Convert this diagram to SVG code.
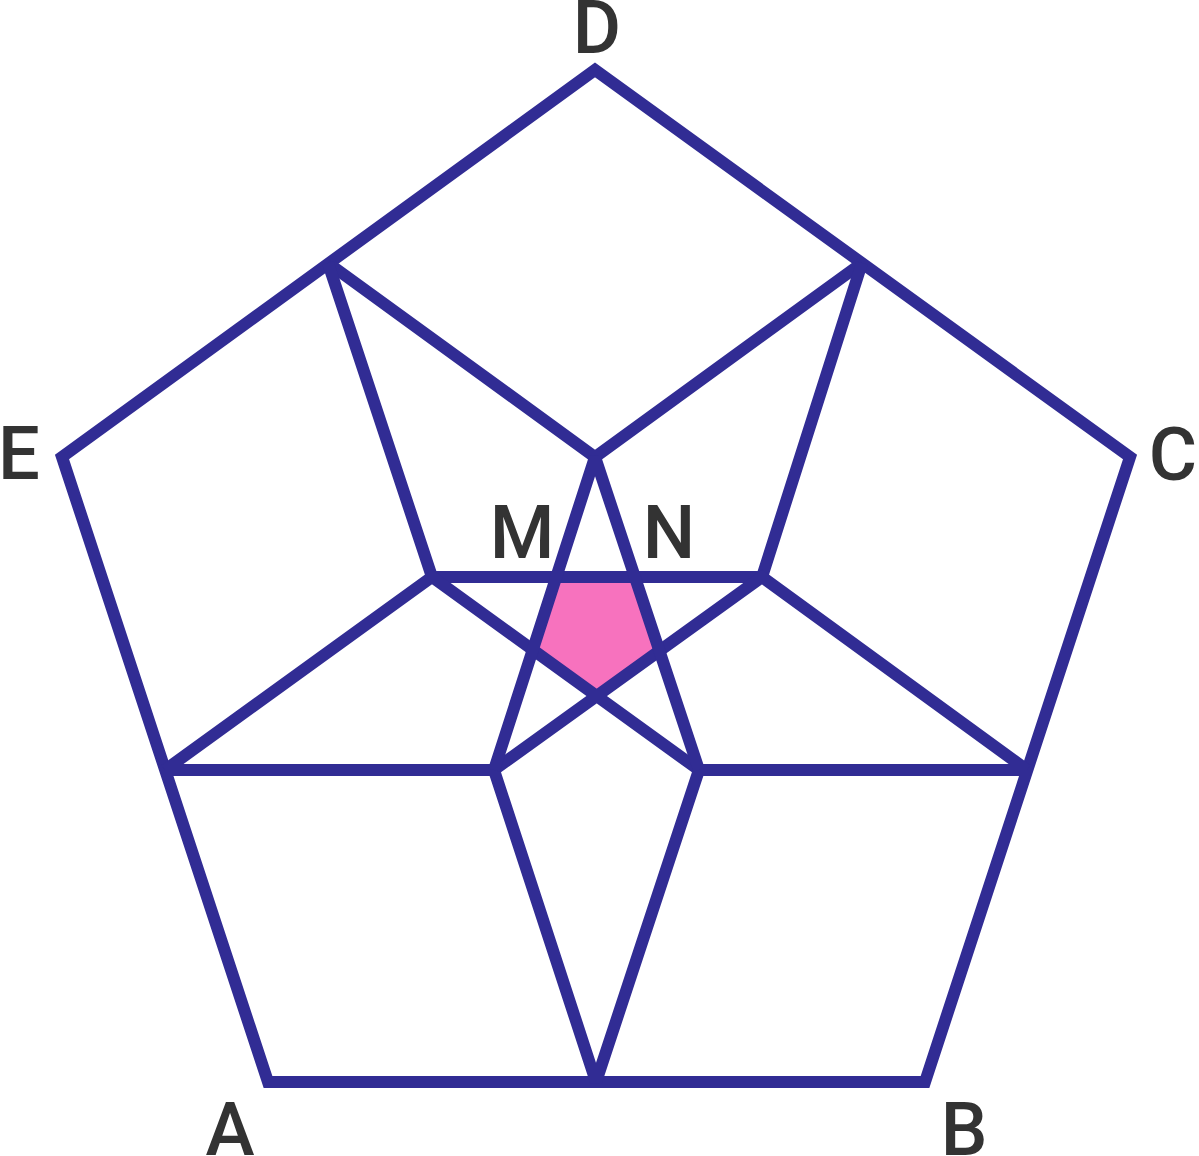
<svg xmlns="http://www.w3.org/2000/svg" width="1199" height="1156" viewBox="0 0 1199 1156">
<style>
.ln{fill:none;stroke:#312C94;stroke-width:12;stroke-linejoin:miter;stroke-miterlimit:2;stroke-linecap:butt}
.lb{font-family:Roboto,"Liberation Sans",Arial,sans-serif;font-weight:500;font-size:74px;fill:#333333;text-anchor:middle}
</style>
<rect width="1199" height="1156" fill="#ffffff"/>
<g id="center-pentagon">
<polygon points="556,577 635,577 659,650 597,695 533,650" fill="#F772BE"/>
</g>
<g id="connectors">
<polygon class="ln" points="268,1082 925,1082 1130,457 595,70 62,457"/>
<polyline class="ln" points="328,263 595,457 862,263"/>
<polyline class="ln" points="328,263 432,577 762,577 862,263"/>
<polyline class="ln" points="165,770 432,577 699,770 596,1082 494,770 762,577 1027,770"/>
<line class="ln" x1="165" y1="770" x2="494" y2="770"/>
<line class="ln" x1="699" y1="770" x2="1027" y2="770"/>
<polyline class="ln" points="494,770 595,457 699,770"/>
</g>
<g id="label-D"><text class="lb" x="597" y="53">D</text></g>
<g id="label-E"><text class="lb" x="19" y="479">E</text></g>
<g id="label-C"><text class="lb" x="1173" y="480">C</text></g>
<g id="label-M"><text class="lb" x="522" y="558">M</text></g>
<g id="label-N"><text class="lb" x="669" y="558">N</text></g>
<g id="label-A"><text class="lb" x="230" y="1155">A</text></g>
<g id="label-B"><text class="lb" x="964" y="1155">B</text></g>
</svg>
